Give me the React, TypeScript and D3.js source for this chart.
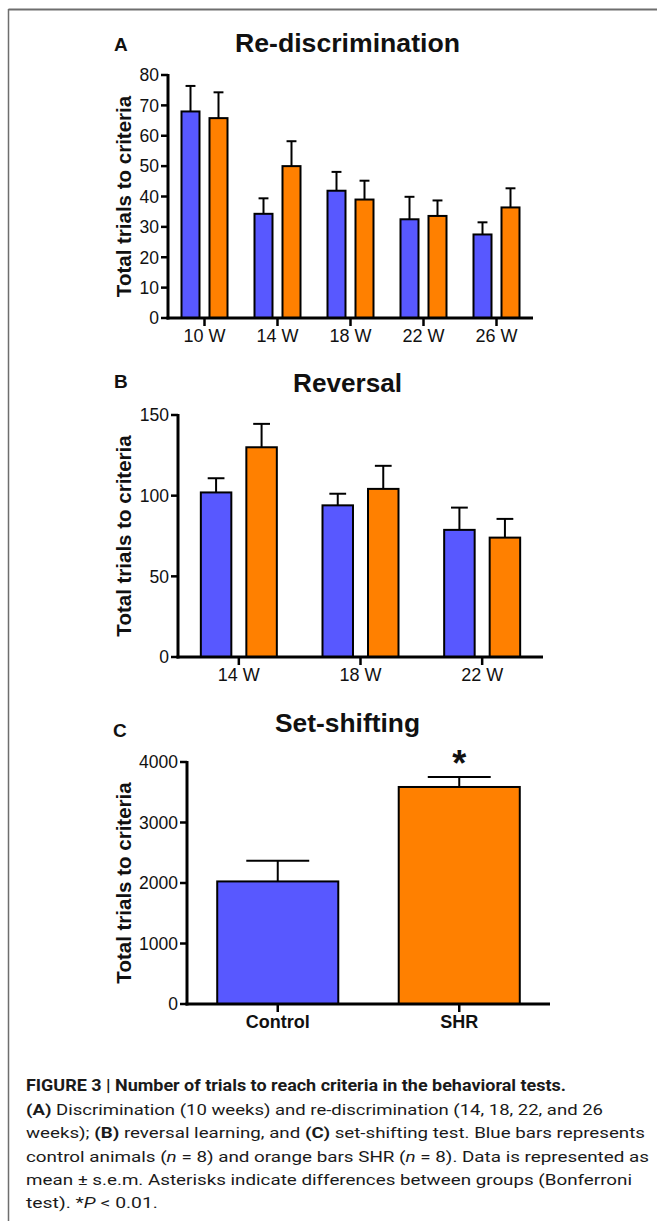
import React from 'react';
import * as d3 from 'd3';

// ---------- DATA ----------
const weeksA = ['10 W', '14 W', '18 W', '22 W', '26 W'];
const controlA = [68, 34.3, 41.9, 32.5, 27.5];
const controlSemA = [8.4, 5.1, 6.2, 7.4, 4.0];
const shrA = [65.8, 50, 39, 33.6, 36.4];
const shrSemA = [8.5, 8.2, 6.2, 5.1, 6.3];
const ticksA = [0, 10, 20, 30, 40, 50, 60, 70, 80];

const weeksB = ['14 W', '18 W', '22 W'];
const controlB = [102, 94, 78.8];
const controlSemB = [8.8, 7.2, 13.8];
const shrB = [130, 104.2, 74];
const shrSemB = [14.5, 14.3, 11.6];
const ticksB = [0, 50, 100, 150];

const groupsC = ['Control', 'SHR'];
const valuesC = [2026, 3587];
const semC = [343, 165];
const ticksC = [0, 1000, 2000, 3000, 4000];
const signifC = ['', '*'];

const seriesNames = ['control', 'shr'];
const BLUE = '#5858FF';
const ORANGE = '#FF8000';
const FONT = 'Liberation Sans, Arial, Helvetica, sans-serif';

type Series = { values: number[]; sems: number[]; color: string };

function Axes({ x0, x1, y, ticks, centers, labels, labelBold, yTitleCenter }: any) {
  const yMax = ticks[ticks.length - 1];
  const base = y(0);
  return (
    <g>
      <line x1={x0} x2={x0} y1={y(yMax) - 1} y2={base + 1.5} stroke="#000" strokeWidth={3} />
      <line x1={x0 - 1.5} x2={x1} y1={base} y2={base} stroke="#000" strokeWidth={3} />
      {ticks.map((t: number) => (
        <g key={t}>
          <line x1={x0 - 7} x2={x0} y1={y(t)} y2={y(t)} stroke="#000" strokeWidth={2.5} />
          <text x={x0 - 9} y={y(t)} dy="0.36em" textAnchor="end" fontSize={17.5} fontFamily={FONT} fill="#111">
            {t}
          </text>
        </g>
      ))}
      {centers.map((c: number, i: number) => (
        <g key={i}>
          <line x1={c} x2={c} y1={base} y2={base + 8} stroke="#000" strokeWidth={2.5} />
          <text x={c} y={base + 24} textAnchor="middle" fontSize={18} fontWeight={labelBold ? 'bold' : 'normal'} fontFamily={FONT} fill="#111">
            {labels[i]}
          </text>
        </g>
      ))}
      <text
        transform={`translate(131,${yTitleCenter}) rotate(-90)`}
        textAnchor="middle"
        fontSize={20.5}
        fontWeight="bold"
        fontFamily={FONT}
        fill="#111"
      >
        Total trials to criteria
      </text>
    </g>
  );
}

function ErrorBar({ cx, yTop, yErr, cap }: any) {
  return (
    <g stroke="#000" strokeWidth={2}>
      <line x1={cx} x2={cx} y1={yTop} y2={yErr} />
      <line x1={cx - cap / 2} x2={cx + cap / 2} y1={yErr} y2={yErr} />
    </g>
  );
}

function GroupedPanel({ categories, series, ticks, x0, x1, yTop, yBottom, groupWidth, innerPad }: any) {
  const yMax = ticks[ticks.length - 1];
  const y = d3.scaleLinear().domain([0, yMax]).range([yBottom, yTop]);
  const x = d3.scaleBand<string>().domain(categories).range([x0, x1]).padding(0);
  const centers = categories.map((c: string) => (x(c) as number) + x.bandwidth() / 2);
  return (
    <g>
      {categories.map((c: string, i: number) => {
        const cx = centers[i];
        const inner = d3
          .scaleBand<string>()
          .domain(seriesNames)
          .range([cx - groupWidth / 2, cx + groupWidth / 2])
          .paddingInner(innerPad)
          .paddingOuter(0);
        const bw = inner.bandwidth();
        return (
          <g key={c}>
            {(series as Series[]).map((s, j) => {
              const bx = inner(seriesNames[j]) as number;
              const v = s.values[i];
              return (
                <g key={j}>
                  <ErrorBar cx={bx + bw / 2} yTop={y(v)} yErr={y(v + s.sems[i])} cap={bw * 0.55} />
                  <rect x={bx} y={y(v)} width={bw} height={y(0) - y(v)} fill={s.color} stroke="#000" strokeWidth={2} />
                </g>
              );
            })}
          </g>
        );
      })}
      <Axes x0={x0} x1={x1} y={y} ticks={ticks} centers={centers} labels={categories} yTitleCenter={(yTop + yBottom) / 2} />
    </g>
  );
}

function SinglePanel() {
  const x0 = 187, x1 = 550, yTop = 762, yBottom = 1004;
  const y = d3.scaleLinear().domain([0, ticksC[ticksC.length - 1]]).range([yBottom, yTop]);
  const x = d3.scaleBand<string>().domain(groupsC).range([x0, x1]).padding(0);
  const centers = groupsC.map((g) => (x(g) as number) + x.bandwidth() / 2);
  const bw = x.bandwidth() * 0.667;
  const colors = [BLUE, ORANGE];
  return (
    <g>
      {groupsC.map((g, i) => {
        const cx = centers[i];
        const v = valuesC[i];
        return (
          <g key={g}>
            <ErrorBar cx={cx} yTop={y(v)} yErr={y(v + semC[i])} cap={bw * 0.52} />
            <rect x={cx - bw / 2} y={y(v)} width={bw} height={y(0) - y(v)} fill={colors[i]} stroke="#000" strokeWidth={2} />
            {signifC[i] && (
              <text x={cx} y={y(v + semC[i]) - 1} textAnchor="middle" fontSize={36} fontWeight="bold" fontFamily={FONT} fill="#111">
                {signifC[i]}
              </text>
            )}
          </g>
        );
      })}
      <Axes x0={x0} x1={x1} y={y} ticks={ticksC} centers={centers} labels={groupsC} labelBold yTitleCenter={(yTop + yBottom) / 2} />
    </g>
  );
}

const CAP_FONT = 'Roboto, Liberation Sans, Arial, sans-serif';

export default function App() {
  return (
    <div style={{ position: 'absolute', left: 0, top: 0 }}>
      <style>{`body{margin:0}`}</style>
      <svg width={657} height={1221} style={{ display: 'block', background: '#fff' }}>
        <rect x={0} y={0} width={657} height={1221} fill="#fff" />
        {/* frame */}
        <line x1={8.5} x2={657} y1={9.5} y2={9.5} stroke="#6e6e6e" strokeWidth={2} />
        <line x1={8.5} x2={8.5} y1={9} y2={1221} stroke="#6e6e6e" strokeWidth={1.5} />

        {/* Panel A */}
        <text x={114} y={51} fontSize={19} fontWeight="bold" fontFamily={FONT} fill="#111">A</text>
        <text x={347.5} y={52} textAnchor="middle" fontSize={25} fontWeight="bold" fontFamily={FONT} fill="#111" textLength={225} lengthAdjust="spacingAndGlyphs">Re-discrimination</text>
        <GroupedPanel
          categories={weeksA}
          series={[
            { values: controlA, sems: controlSemA, color: BLUE },
            { values: shrA, sems: shrSemA, color: ORANGE },
          ]}
          ticks={ticksA}
          x0={168}
          x1={533}
          yTop={75}
          yBottom={318}
          groupWidth={46}
          innerPad={0.357}
        />

        {/* Panel B */}
        <text x={114} y={388} fontSize={19} fontWeight="bold" fontFamily={FONT} fill="#111">B</text>
        <text x={347.5} y={392} textAnchor="middle" fontSize={25} fontWeight="bold" fontFamily={FONT} fill="#111" textLength={109} lengthAdjust="spacingAndGlyphs">Reversal</text>
        <GroupedPanel
          categories={weeksB}
          series={[
            { values: controlB, sems: controlSemB, color: BLUE },
            { values: shrB, sems: shrSemB, color: ORANGE },
          ]}
          ticks={ticksB}
          x0={178}
          x1={543}
          yTop={415}
          yBottom={657}
          groupWidth={76}
          innerPad={0.33}
        />

        {/* Panel C */}
        <text x={113} y={737} fontSize={19} fontWeight="bold" fontFamily={FONT} fill="#111">C</text>
        <text x={347.5} y={732} textAnchor="middle" fontSize={25} fontWeight="bold" fontFamily={FONT} fill="#111" textLength={145} lengthAdjust="spacingAndGlyphs">Set-shifting</text>
        <SinglePanel />

        {/* Caption */}
        <g fontFamily={CAP_FONT} fontSize={15} fill="#1a1a1a">
          <text x={26} y={1091} fontSize={16} fontWeight="bold" textLength={540} lengthAdjust="spacingAndGlyphs">
            FIGURE 3 | Number of trials to reach criteria in the behavioral tests.
          </text>
          <text x={26} y={1115} textLength={577} lengthAdjust="spacingAndGlyphs">
            <tspan fontWeight="bold">(A)</tspan> Discrimination (10 weeks) and re-discrimination (14, 18, 22, and 26
          </text>
          <text x={26} y={1138} textLength={619} lengthAdjust="spacingAndGlyphs">
            weeks); <tspan fontWeight="bold">(B)</tspan> reversal learning, and <tspan fontWeight="bold">(C)</tspan> set-shifting test. Blue bars represents
          </text>
          <text x={26} y={1162} textLength={623} lengthAdjust="spacingAndGlyphs">
            control animals (<tspan fontStyle="italic">n</tspan> = 8) and orange bars SHR (<tspan fontStyle="italic">n</tspan> = 8). Data is represented as
          </text>
          <text x={26} y={1185} textLength={606} lengthAdjust="spacingAndGlyphs">
            mean ± s.e.m. Asterisks indicate differences between groups (Bonferroni
          </text>
          <text x={26} y={1208} textLength={132} lengthAdjust="spacingAndGlyphs">
            test). *<tspan fontStyle="italic">P</tspan> &lt; 0.01.
          </text>
        </g>
      </svg>
    </div>
  );
}
